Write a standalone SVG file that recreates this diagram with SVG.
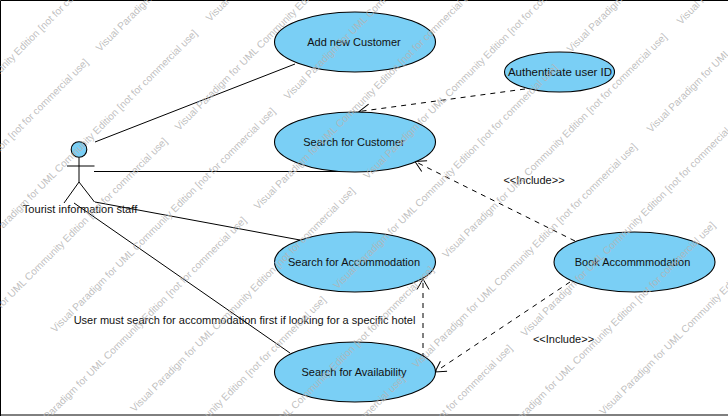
<svg xmlns="http://www.w3.org/2000/svg" width="728" height="416" viewBox="0 0 728 416">
<style>
text{font-family:"Liberation Sans",Arial,sans-serif;font-size:11px;fill:#111}
.c{text-anchor:middle}
.u{fill:#7acff5;stroke:#000;stroke-width:1.1}
.l{fill:none;stroke:#000;stroke-width:1}
.d{fill:none;stroke:#000;stroke-width:1;stroke-dasharray:5 5;marker-end:url(#open)}
.w{font-size:10.2px;fill:#b4b4b4;fill-opacity:.85}
</style>
<defs>
<marker id="open" markerUnits="userSpaceOnUse" markerWidth="14" markerHeight="16" refX="12" refY="8" orient="auto" overflow="visible">
<path d="M1.5 2L12 8L1.5 14" fill="none" stroke="#000" stroke-width="1"/>
</marker>
</defs>
<rect width="728" height="416" fill="#fff"/>
<path d="M.5 416V.5H728M0 415H728" fill="none" stroke="#000"/>
<g id="connectors">
<path class="l" d="M95 142L295 64"/>
<path class="l" d="M94 171.500L340 171.500"/>
<path class="l" d="M95 202L300 240"/>
<path class="l" d="M74 203L290 353"/>
<path class="d" d="M525 89L359 111.500"/>
<path class="d" d="M575 241L415 161.500"/>
<path class="d" d="M570 282L435 372"/>
<path class="d" d="M423 358L423 279"/>
</g>
<g id="actor-tourist-staff">
<circle class="u" cx="79" cy="149.500" r="7.800"/>
<path class="l" d="M79 157.500V182M67 166H94.500M79 182L64 203M79 182L94.500 202"/>
<text x="80" y="213" class="c" style="font-size:11.100px">Tourist information staff</text>
</g>
<g id="uc-add-customer"><ellipse class="u" cx="355" cy="42" rx="80.500" ry="30"/><text x="354" y="46" class="c">Add new Customer</text></g>
<g id="uc-search-customer"><ellipse class="u" cx="355" cy="142" rx="80.500" ry="30"/><text x="354" y="146" class="c">Search for Customer</text></g>
<g id="uc-search-accommodation"><ellipse class="u" cx="355" cy="262" rx="80.500" ry="30"/><text x="354" y="266" class="c">Search for Accommodation</text></g>
<g id="uc-search-availability"><ellipse class="u" cx="355" cy="372" rx="80.500" ry="30"/><text x="354" y="376" class="c">Search for Availability</text></g>
<g id="uc-authenticate"><ellipse class="u" cx="559.500" cy="72" rx="55" ry="20"/><text x="560" y="76" class="c" style="font-size:11.500px">Authenticate user ID</text></g>
<g id="uc-book"><ellipse class="u" cx="634.500" cy="262" rx="80.500" ry="30"/><text x="632.500" y="266" class="c">Book Accommmodation</text></g>
<g id="labels">
<text x="534" y="184" class="c">&lt;&lt;Include&gt;&gt;</text>
<text x="563.500" y="343" class="c">&lt;&lt;Include&gt;&gt;</text>
<text x="244.500" y="324" class="c">User must search for accommodation first if looking for a specific hotel</text>
</g>
<g id="watermark">
<text class="w" transform="translate(-132 284) rotate(-45)">Visual Paradigm for UML Community Edition [not for commercial use]</text>
<text class="w" transform="translate(-53 363) rotate(-45)">Visual Paradigm for UML Community Edition [not for commercial use]</text>
<text class="w" transform="translate(26 442) rotate(-45)">Visual Paradigm for UML Community Edition [not for commercial use]</text>
<text class="w" transform="translate(105.500 521.500) rotate(-45)">Visual Paradigm for UML Community Edition [not for commercial use]</text>
<text class="w" transform="translate(184.500 600.500) rotate(-45)">Visual Paradigm for UML Community Edition [not for commercial use]</text>
<text class="w" transform="translate(-102 176) rotate(-45)">Visual Paradigm for UML Community Edition [not for commercial use]</text>
<text class="w" transform="translate(-23 255) rotate(-45)">Visual Paradigm for UML Community Edition [not for commercial use]</text>
<text class="w" transform="translate(55 333) rotate(-45)">Visual Paradigm for UML Community Edition [not for commercial use]</text>
<text class="w" transform="translate(134.500 412.500) rotate(-45)">Visual Paradigm for UML Community Edition [not for commercial use]</text>
<text class="w" transform="translate(213.500 491.500) rotate(-45)">Visual Paradigm for UML Community Edition [not for commercial use]</text>
<text class="w" transform="translate(292 570) rotate(-45)">Visual Paradigm for UML Community Edition [not for commercial use]</text>
<text class="w" transform="translate(100 52) rotate(-45)">Visual Paradigm for UML Community Edition [not for commercial use]</text>
<text class="w" transform="translate(179 131) rotate(-45)">Visual Paradigm for UML Community Edition [not for commercial use]</text>
<text class="w" transform="translate(258 210) rotate(-45)">Visual Paradigm for UML Community Edition [not for commercial use]</text>
<text class="w" transform="translate(337.500 289.500) rotate(-45)">Visual Paradigm for UML Community Edition [not for commercial use]</text>
<text class="w" transform="translate(416.500 368.500) rotate(-45)">Visual Paradigm for UML Community Edition [not for commercial use]</text>
<text class="w" transform="translate(495 447) rotate(-45)">Visual Paradigm for UML Community Edition [not for commercial use]</text>
<text class="w" transform="translate(210 22) rotate(-45)">Visual Paradigm for UML Community Edition [not for commercial use]</text>
<text class="w" transform="translate(288 100) rotate(-45)">Visual Paradigm for UML Community Edition [not for commercial use]</text>
<text class="w" transform="translate(367.500 179.500) rotate(-45)">Visual Paradigm for UML Community Edition [not for commercial use]</text>
<text class="w" transform="translate(446.500 258.500) rotate(-45)">Visual Paradigm for UML Community Edition [not for commercial use]</text>
<text class="w" transform="translate(525 337) rotate(-45)">Visual Paradigm for UML Community Edition [not for commercial use]</text>
<text class="w" transform="translate(603.500 415.500) rotate(-45)">Visual Paradigm for UML Community Edition [not for commercial use]</text>
<text class="w" transform="translate(571 53) rotate(-45)">Visual Paradigm for UML Community Edition [not for commercial use]</text>
<text class="w" transform="translate(651 133) rotate(-45)">Visual Paradigm for UML Community Edition [not for commercial use]</text>
<text class="w" transform="translate(681 25) rotate(-45)">Visual Paradigm for UML Community Edition [not for commercial use]</text>
</g>
</svg>
